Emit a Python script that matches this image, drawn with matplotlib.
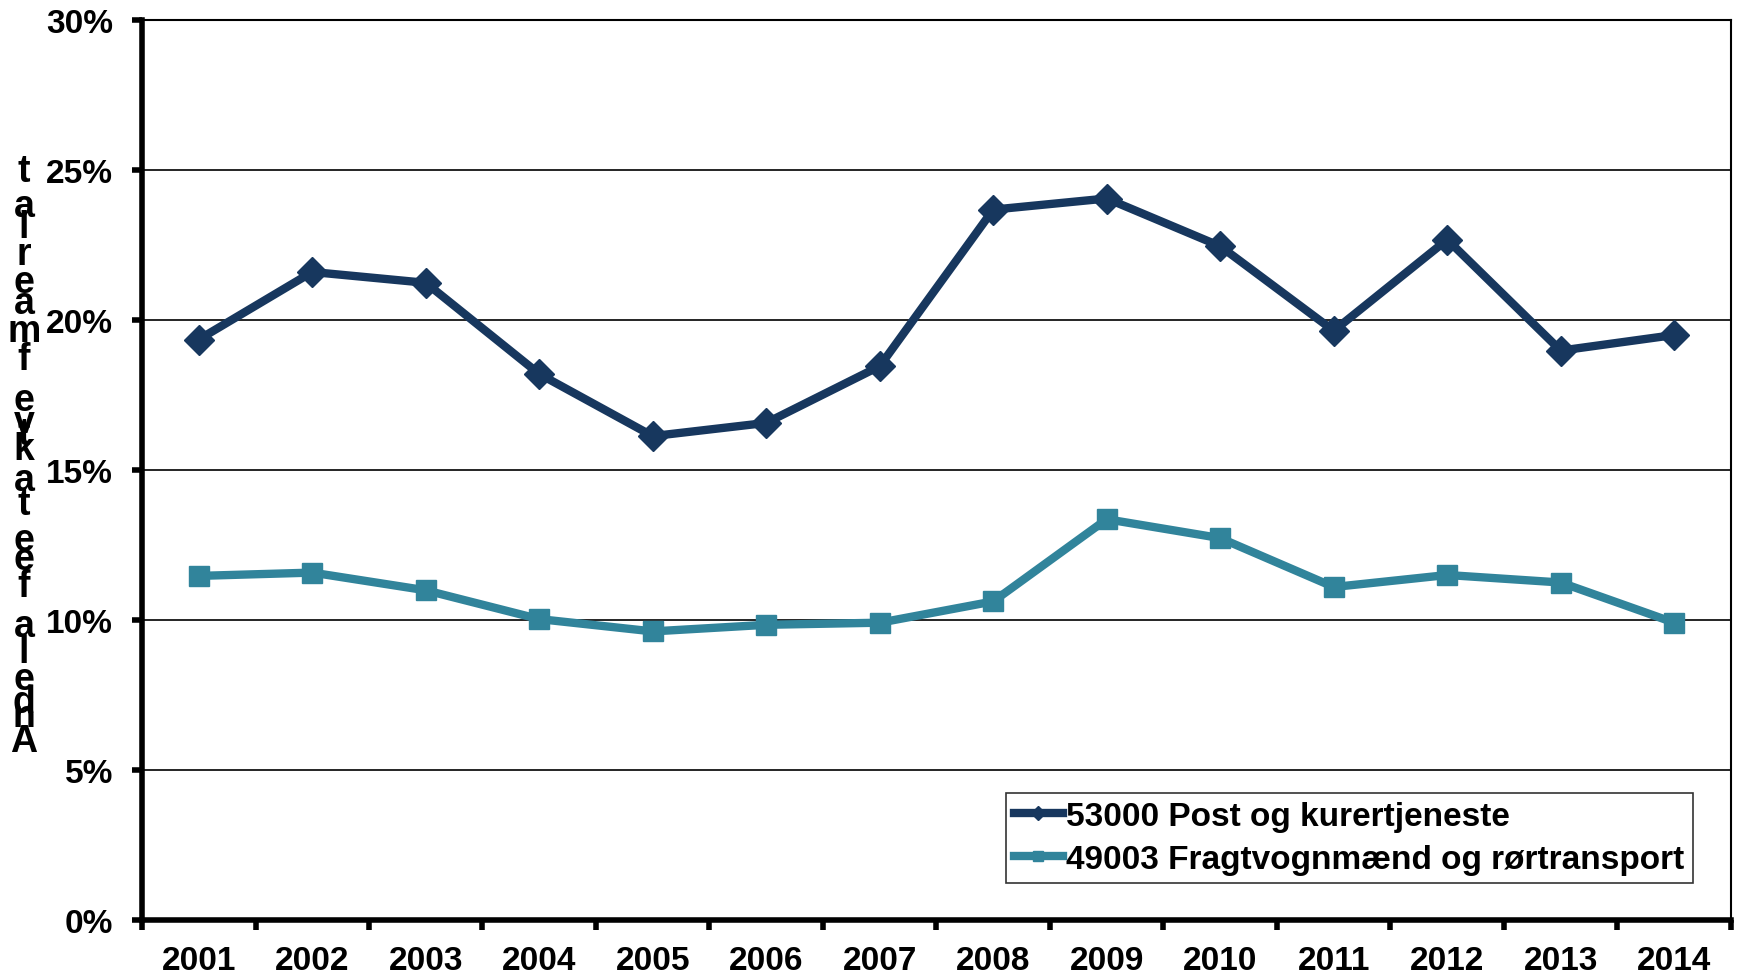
import numpy as np
import matplotlib
matplotlib.use('Agg')
import matplotlib.pyplot as plt
from matplotlib.ticker import FixedLocator, PercentFormatter

plt.rcParams['font.family'] = ['Liberation Sans', 'DejaVu Sans']
plt.rcParams['font.weight'] = 'bold'

# data
years = ['2001', '2002', '2003', '2004', '2005', '2006', '2007',
         '2008', '2009', '2010', '2011', '2012', '2013', '2014']
post = [19.35, 21.6, 21.24, 18.2, 16.13, 16.57, 18.46,
        23.68, 24.05, 22.46, 19.64, 22.68, 18.98, 19.5]
fragt = [11.47, 11.58, 10.99, 10.03, 9.62, 9.84, 9.91,
         10.62, 13.36, 12.73, 11.1, 11.5, 11.25, 9.91]
name_post = '53000 Post og kurertjeneste'
name_fragt = '49003 Fragtvognmænd og rørtransport'

# y label, drawn as stacked letters like the original (top to bottom)
ylab_chars = ['t', 'a', 'l', 'r', 'e', 'a', 'm', 'f', 'e', 'v', 't', 'k', 'a',
              't', 'e', 'e', 'f', 'a', 'l', 'e', 'd', 'n', 'A']
ylab_y = [172, 207, 228, 255, 283, 304, 332, 360, 401, 423, 435, 450, 481,
          505, 541, 560, 587, 627, 653, 680, 703, 717, 742]

navy = '#17375E'
teal = '#31849B'

W, H = 1740, 979
fig = plt.figure(figsize=(W / 100, H / 100), dpi=100)
ax = fig.add_axes([142 / W, 1 - 921 / H, (1731 - 142) / W, (921 - 21) / H])

x = np.arange(len(years))
ax.plot(x, post, color=navy, lw=6, marker='D', ms=15, label=name_post, zorder=3)
ax.plot(x, fragt, color=teal, lw=6, marker='s', ms=15, label=name_fragt, zorder=3)

ax.set_xlim(-0.5, len(years) - 0.5)
ax.set_ylim(0, 30)
ax.yaxis.set_major_locator(FixedLocator(np.arange(0, 31, 5)))
ax.yaxis.set_major_formatter(PercentFormatter(decimals=0))
ax.grid(axis='y', color='black', lw=1.2)
ax.set_axisbelow(True)

ax.set_xticks(x)
ax.set_xticklabels(years)
ax.xaxis.set_minor_locator(FixedLocator(np.arange(-0.5, len(years), 1)))
ax.tick_params(axis='x', which='major', length=0, pad=18, labelsize=24)
ax.tick_params(axis='x', which='minor', length=7, width=4, direction='out')
ax.tick_params(axis='y', length=7, width=4, pad=14, labelsize=24)

for s in ['left', 'bottom']:
    ax.spines[s].set_linewidth(4)
for s in ['right', 'top']:
    ax.spines[s].set_linewidth(1.5)

for ch, yy in zip(ylab_chars, ylab_y):
    fig.text(24 / W, 1 - yy / H, ch, fontsize=27, fontweight='bold',
             ha='center', va='center')

leg = ax.legend(loc='lower left', bbox_to_anchor=(0.5437, 0.041), fontsize=24,
                frameon=True, fancybox=False, edgecolor='black',
                handlelength=1.45, handletextpad=0.1, borderpad=0.25,
                labelspacing=0.35, markerscale=0.5, borderaxespad=0)
leg.get_frame().set_linewidth(1.2)

fig.savefig('out.png', dpi=100)
